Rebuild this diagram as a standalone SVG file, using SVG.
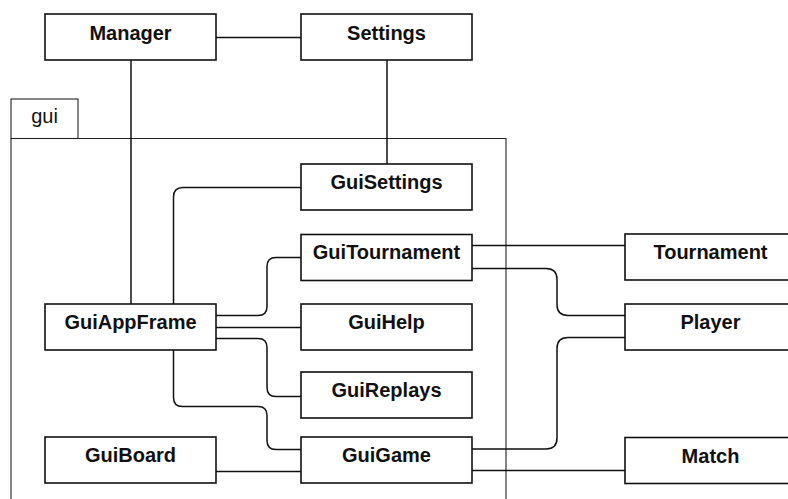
<svg xmlns="http://www.w3.org/2000/svg" width="788" height="499" viewBox="0 0 788 499">
  <style>
    .box { fill: #ffffff; stroke: #111111; stroke-width: 1.6; }
    .pkg { fill: none; stroke: #222222; stroke-width: 1.1; }
    .conn { fill: none; stroke: #111111; stroke-width: 1.5; }
    .lbl { font-family: "Liberation Sans", Arial, sans-serif; font-size: 20px; font-weight: bold; fill: #111111; text-anchor: middle; }
    .pkglbl { font-family: "Liberation Sans", Arial, sans-serif; font-size: 20px; fill: #111111; text-anchor: middle; }
  </style>
  <rect width="788" height="499" fill="#ffffff"/>

  <!-- package "gui" -->
  <g id="pkg-gui">
    <rect class="pkg" x="11" y="99" width="67" height="39.5"/>
    <path class="pkg" d="M11,138.5 H506 V505 M11,138.5 V505"/>
    <text class="pkglbl" x="44.5" y="123">gui</text>
  </g>

  <!-- connectors -->
  <g id="connectors">
    <path class="conn" d="M216,37.5 H301"/>
    <path class="conn" d="M131,60 V304"/>
    <path class="conn" d="M387,60 V164"/>
    <path class="conn" d="M301,187.5 H183 Q173.5,187.5 173.5,197 V304"/>
    <path class="conn" d="M216,315.5 H258 Q267,315.5 267,306.5 V266.5 Q267,257.5 276,257.5 H301"/>
    <path class="conn" d="M216,327.5 H301"/>
    <path class="conn" d="M216,338.5 H258 Q267,338.5 267,347.5 V387.5 Q267,396.5 276,396.5 H301"/>
    <path class="conn" d="M173.5,350 V397.5 Q173.5,406.5 182.5,406.5 H258 Q267,406.5 267,415.5 V440.5 Q267,449.5 276,449.5 H301"/>
    <path class="conn" d="M216,471.5 H301"/>
    <path class="conn" d="M472,245.5 H625"/>
    <path class="conn" d="M472,268.5 H546 Q557,268.5 557,279.5 V304.5 Q557,315.5 568,315.5 H625"/>
    <path class="conn" d="M472,449 H546 Q557,449 557,438 V348.5 Q557,337.5 568,337.5 H625"/>
    <path class="conn" d="M472,470.5 H625"/>
  </g>

  <!-- classes -->
  <g id="Manager">
    <rect class="box" x="45" y="14" width="171" height="46"/>
    <text class="lbl" x="130.5" y="40">Manager</text>
  </g>
  <g id="Settings">
    <rect class="box" x="301" y="14" width="171" height="46"/>
    <text class="lbl" x="386.5" y="40">Settings</text>
  </g>
  <g id="GuiSettings">
    <rect class="box" x="301" y="164" width="171" height="46"/>
    <text class="lbl" x="386.5" y="189">GuiSettings</text>
  </g>
  <g id="GuiTournament">
    <rect class="box" x="301" y="234.5" width="171" height="46"/>
    <text class="lbl" x="386.5" y="258.5">GuiTournament</text>
  </g>
  <g id="GuiAppFrame">
    <rect class="box" x="45" y="304" width="171" height="46"/>
    <text class="lbl" x="130.5" y="329">GuiAppFrame</text>
  </g>
  <g id="GuiHelp">
    <rect class="box" x="301" y="304" width="171" height="46"/>
    <text class="lbl" x="386.5" y="329">GuiHelp</text>
  </g>
  <g id="GuiReplays">
    <rect class="box" x="301" y="372" width="171" height="46"/>
    <text class="lbl" x="386.5" y="397">GuiReplays</text>
  </g>
  <g id="GuiBoard">
    <rect class="box" x="45" y="437" width="171" height="46"/>
    <text class="lbl" x="130.5" y="462">GuiBoard</text>
  </g>
  <g id="GuiGame">
    <rect class="box" x="301" y="437" width="171" height="46"/>
    <text class="lbl" x="386.5" y="462">GuiGame</text>
  </g>
  <g id="Tournament">
    <rect class="box" x="625" y="234" width="171" height="46"/>
    <text class="lbl" x="710.5" y="259">Tournament</text>
  </g>
  <g id="Player">
    <rect class="box" x="625" y="304" width="171" height="46"/>
    <text class="lbl" x="710.5" y="329">Player</text>
  </g>
  <g id="Match">
    <rect class="box" x="625" y="437.5" width="171" height="46"/>
    <text class="lbl" x="710.5" y="462.5">Match</text>
  </g>
</svg>
